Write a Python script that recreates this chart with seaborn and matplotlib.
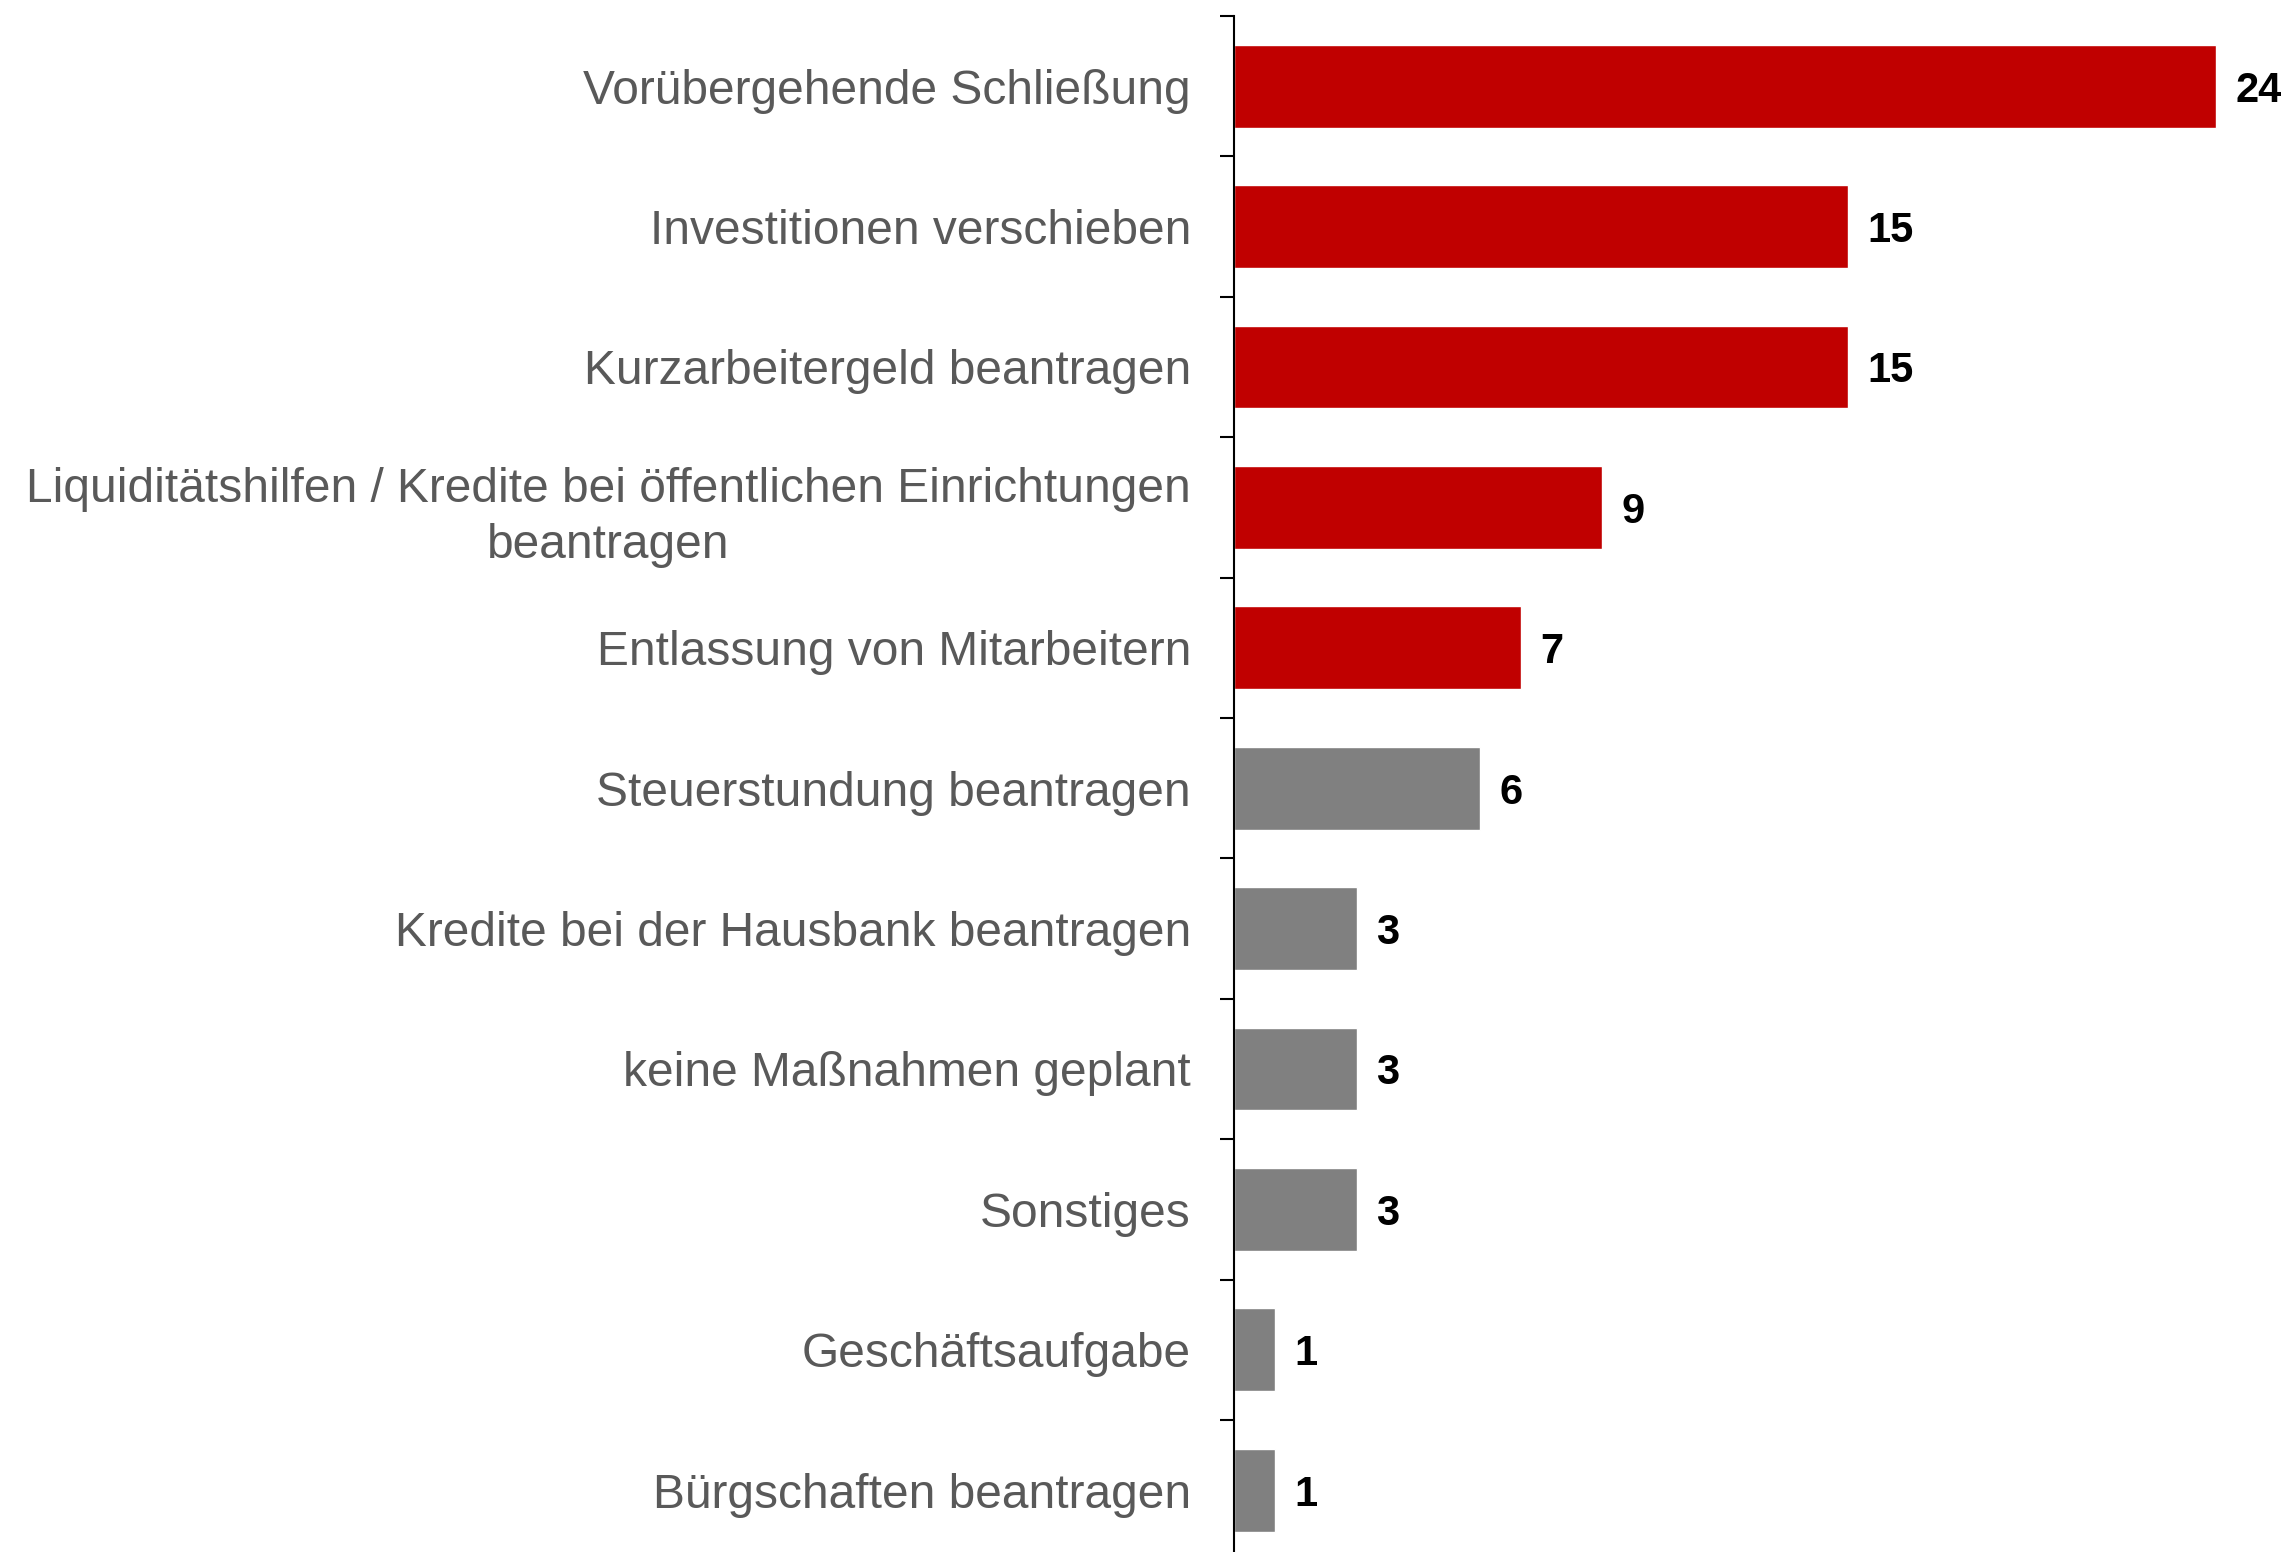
import matplotlib
matplotlib.use('Agg')
import matplotlib.pyplot as plt
import seaborn as sns
import numpy as np

categories = [
    'Vorübergehende Schließung',
    'Investitionen verschieben',
    'Kurzarbeitergeld beantragen',
    'Liquiditätshilfen / Kredite bei öffentlichen Einrichtungen\nbeantragen',
    'Entlassung von Mitarbeitern',
    'Steuerstundung beantragen',
    'Kredite bei der Hausbank beantragen',
    'keine Maßnahmen geplant',
    'Sonstiges',
    'Geschäftsaufgabe',
    'Bürgschaften beantragen',
]
values = [24, 15, 15, 9, 7, 6, 3, 3, 3, 1, 1]
bar_colors = ['#C00000'] * 5 + ['#808080'] * 6

sns.set_style('white')
plt.rcParams['font.family'] = ['Liberation Sans', 'DejaVu Sans']

fig = plt.figure(figsize=(22.9, 15.52), dpi=100)
ax = fig.add_axes([1234 / 2290, 1 - 16 / 1552 - 1544.4 / 1552, 1 - 1234 / 2290, 1544.4 / 1552])

sns.barplot(x=values, y=categories, hue=categories, palette=bar_colors,
            legend=False, width=0.59, orient='h', ax=ax, saturation=1)

for c in ax.containers:
    labels = ax.bar_label(c, padding=14, fontsize=30, fontweight='bold', color='black')
    for t in labels:
        t.set_va('center_baseline')

ax.set_xlim(0, 25.8)
ax.set_ylim(len(categories) - 0.5, -0.5)
ax.set_xticks([])
ax.set_xlabel('')
ax.set_ylabel('')

for s in ['top', 'right', 'bottom']:
    ax.spines[s].set_visible(False)
ax.spines['left'].set_color('black')
ax.spines['left'].set_linewidth(1.5)

ax.set_yticks(np.arange(-0.5, len(categories)), minor=True)
ax.tick_params(axis='y', which='minor', length=10, width=1.5, color='black', left=True)
ax.tick_params(axis='y', which='major', length=0, pad=31, labelsize=34.5, labelcolor='#595959')
for t in ax.get_yticklabels():
    t.set_multialignment('center')
    t.set_linespacing(1.3)

plt.savefig('out.png', dpi=100)
